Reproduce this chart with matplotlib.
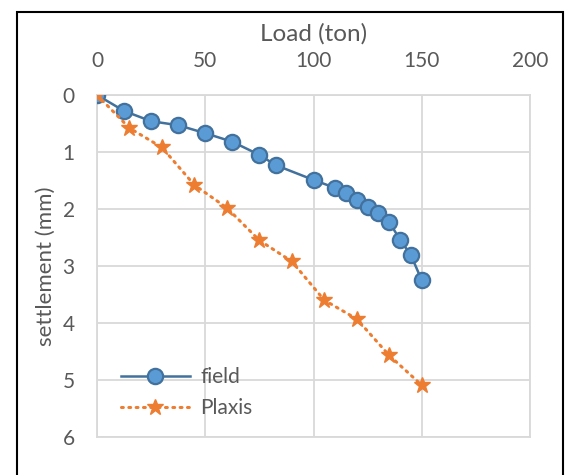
import matplotlib.pyplot as plt
from matplotlib.patches import Rectangle

# field measurements
field_load = [0, 12.5, 25, 37.5, 50, 62.5, 75, 82.5, 100, 110, 115, 120, 125, 130, 135, 140, 145, 150]
field_settle = [0, 0.28, 0.46, 0.53, 0.67, 0.82, 1.05, 1.23, 1.49, 1.63, 1.72, 1.84, 1.96, 2.07, 2.23, 2.54, 2.81, 3.25]

# Plaxis model
plaxis_load = [0, 15, 30, 45, 60, 75, 90, 105, 120, 135, 150]
plaxis_settle = [0, 0.58, 0.92, 1.58, 1.98, 2.55, 2.92, 3.6, 3.93, 4.57, 5.09]

x_ticks = [0, 50, 100, 150, 200]
y_ticks = [0, 1, 2, 3, 4, 5, 6]

plt.rcParams["font.family"] = ["Lato", "DejaVu Sans"]
text_col = "#595959"
grid_col = "#d9d9d9"

fig = plt.figure(figsize=(5.7, 4.75), dpi=100)
ax = fig.add_axes([97 / 570, 1 - 437 / 475, 433 / 570, 342 / 475])

ax.plot(field_load, field_settle, color="#41719c", linewidth=1.8, marker="o",
        markersize=11, markerfacecolor="#5b9bd5", markeredgecolor="#41719c",
        markeredgewidth=1.6, label="field", zorder=3)
ax.plot(plaxis_load, plaxis_settle, color="#ed7d31", linewidth=2.2, linestyle=(0, (0.6, 1.8)),
        dash_capstyle="round", marker="*", markersize=12, markerfacecolor="#ed7d31",
        markeredgecolor="#ed7d31", label="Plaxis", zorder=3)

ax.set_xlim(0, 200)
ax.set_ylim(6, 0)
ax.set_xticks(x_ticks)
ax.set_yticks(y_ticks)
ax.xaxis.tick_top()
ax.xaxis.set_label_position("top")
ax.tick_params(length=0, labelsize=15, labelcolor=text_col)
ax.tick_params(axis="x", pad=17)
ax.tick_params(axis="y", pad=16)
ax.grid(True, color=grid_col, linewidth=1.3)
ax.set_axisbelow(True)
for s in ax.spines.values():
    s.set_color(grid_col)
    s.set_linewidth(1.3)

ax.set_xlabel("Load (ton)", fontsize=17.5, color=text_col, labelpad=8)
ax.set_ylabel("settlement (mm)", fontsize=16, color=text_col, labelpad=5)

ax.legend(loc="lower left", bbox_to_anchor=(0.012, 0.0), frameon=False, fontsize=15,
          labelcolor=text_col, handlelength=3.3, handletextpad=0.5, labelspacing=0.55)

fig.patches.append(Rectangle((17 / 570, -0.02), (563 - 17) / 570, 1.02 - 12 / 475,
                             transform=fig.transFigure, fill=False, edgecolor="black",
                             linewidth=1.5))

fig.savefig("out.png", dpi=100)
